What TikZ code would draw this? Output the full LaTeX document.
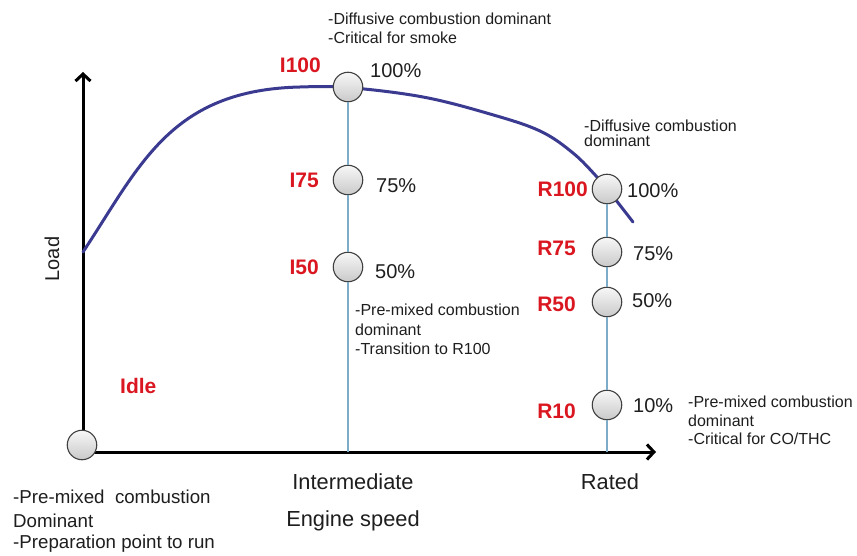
\documentclass[tikz,border=0pt]{standalone}
\usepackage{fontspec}
\setmainfont{Liberation Sans}
\usetikzlibrary{arrows.meta}
\definecolor{labred}{RGB}{218,22,32}
\definecolor{curveblue}{RGB}{58,58,145}
\definecolor{stemblue}{RGB}{125,172,200}
\definecolor{txt}{RGB}{30,30,30}
\begin{document}
\begin{tikzpicture}[x=1pt,y=-1pt,
  pt/.style={circle,minimum size=29.5pt,inner sep=0pt,draw=black!75,line width=1.1pt,top color=gray!6,bottom color=gray!42},
  redlab/.style={text=labred,font=\fontsize{21}{25}\selectfont\bfseries,inner sep=0pt},
  pct/.style={text=txt,font=\fontsize{20}{24}\selectfont,inner sep=0pt,anchor=base west},
  note/.style={text=txt,font=\fontsize{16}{19}\selectfont,inner sep=0pt,anchor=base west},
  bignote/.style={text=txt,font=\fontsize{18.7}{22}\selectfont,inner sep=0pt,anchor=base west},
  axlab/.style={text=txt,font=\fontsize{21.8}{26}\selectfont,inner sep=0pt,anchor=base},
  axis/.style={line width=3pt,-{Straight Barb[length=7pt,width=15pt]}},
  stem/.style={stemblue,line width=1.5pt}]
\useasboundingbox (0,0) rectangle (857,556);
% axes
\coordinate (O) at (83,452);
\coordinate (Ytip) at (83,72);
\coordinate (Xtip) at (656,452);
\coordinate (Ibase) at (348,452);
\coordinate (Rbase) at (607,452);
\draw[axis] (O) -- (Ytip);
\draw[axis] (O) -- (Xtip);
% load curve
\draw[curveblue,line width=3pt,line cap=round,line join=round]
  (83,252) .. controls (140,166) and (170,90) .. (300,87)
  -- plot[smooth,tension=0.6] coordinates
  {(300,87) (348,87.5) (423,97) (490,114) (540,131) (573,153) (597,177) (608,190) (633,222)};
% points
\node[pt] (Idle) at (82,445) {};
\node[pt] (I100) at (348,87) {};
\node[pt] (I75) at (348,180) {};
\node[pt] (I50) at (348,267) {};
\node[pt] (R100) at (607,189) {};
\node[pt] (R75) at (607,252) {};
\node[pt] (R50) at (607,302) {};
\node[pt] (R10) at (607,405) {};
% stems
\draw[stem] (I100) -- (I75);
\draw[stem] (I75) -- (I50);
\draw[stem] (I50) -- (Ibase);
\draw[stem] (R100) -- (R75);
\draw[stem] (R75) -- (R50);
\draw[stem] (R50) -- (R10);
\draw[stem] (R10) -- (Rbase);
% red labels
\node[redlab,anchor=base east] (lI100) at (321,73) {I100};
\node[redlab,anchor=base east] (lI75) at (319,188) {I75};
\node[redlab,anchor=base east] (lI50) at (319,275) {I50};
\node[redlab,anchor=base east] (lR100) at (588,197) {R100};
\node[redlab,anchor=base east] (lR75) at (576,255) {R75};
\node[redlab,anchor=base east] (lR50) at (576,312) {R50};
\node[redlab,anchor=base east] (lR10) at (576,418) {R10};
\node[redlab,anchor=base west] (lIdle) at (120,393) {Idle};
% percentages
\node[pct] (pI100) at (370,78) {100\%};
\node[pct] (pI75) at (376,193) {75\%};
\node[pct] (pI50) at (375,279) {50\%};
\node[pct] (pR100) at (627,198) {100\%};
\node[pct] (pR75) at (633,261) {75\%};
\node[pct] (pR50) at (632,307) {50\%};
\node[pct] (pR10) at (633,412) {10\%};
% notes
\node[note] (nt1) at (328,25) {-Diffusive combustion dominant};
\node[note] (nt2) at (328,44) {-Critical for smoke};
\node[note] (nr1) at (584,132) {-Diffusive combustion};
\node[note] (nr2) at (584,147) {dominant};
\node[note] (nm1) at (355,316) {-Pre-mixed combustion};
\node[note] (nm2) at (355,335) {dominant};
\node[note] (nm3) at (355,354) {-Transition to R100};
\node[note] (nb1) at (688,407) {-Pre-mixed combustion};
\node[note] (nb2) at (688,426) {dominant};
\node[note] (nb3) at (688,444) {-Critical for CO/THC};
\node[bignote] (nl1) at (13,503) {-Pre-mixed\ \ combustion};
\node[bignote] (nl2) at (13,527) {Dominant};
\node[bignote] (nl3) at (13,548) {-Preparation point to run};
% axis labels
\node[axlab] (inter) at (353,489) {Intermediate};
\node[axlab] (rated) at (610,489) {Rated};
\node[axlab] (speed) at (353,526) {Engine speed};
\node[axlab,font=\fontsize{20}{24}\selectfont,rotate=90,anchor=center] (load) at (52,259) {Load};
\end{tikzpicture}
\end{document}
